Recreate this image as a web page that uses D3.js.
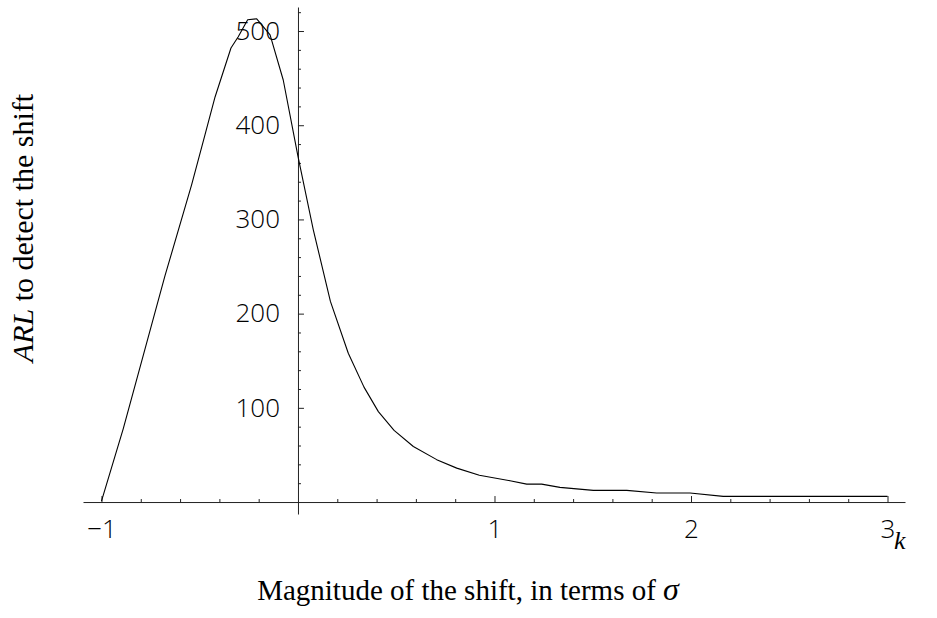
<!DOCTYPE html>
<html>
<head>
<meta charset="utf-8">
<script src="https://cdn.jsdelivr.net/npm/d3@7"></script>
<style>
  body { margin: 0; background: #fff; }
  .tick text { font-family: "Open Sans", "DejaVu Sans", sans-serif; font-weight: 300; font-size: 26px; fill: #000; }
  .lbl { font-family: "Liberation Serif", "Times New Roman", serif; fill: #000; }
</style>
</head>
<body>
<svg id="chart"></svg>
<script>
// reference value k of the shift and the resulting ARL
const kValues = [-1, -0.889, -0.779, -0.677, -0.541, -0.473, -0.422, -0.341, -0.304, -0.256, -0.210,
  -0.142, -0.075, 0, 0.078, 0.165, 0.256, 0.336, 0.409, 0.489, 0.587, 0.706, 0.808, 0.923,
  1.079, 1.164, 1.240, 1.333, 1.503, 1.673, 1.825, 1.995, 2.164, 3.0];
const arlValues = [1, 78, 162, 240, 337, 390, 430, 482, 494, 512, 513,
  496, 448, 367, 289, 213, 158, 122, 96, 76, 59, 45, 36, 28.5,
  22.6, 19, 19, 15.6, 12.4, 12.4, 9.6, 9.6, 6, 6];

const xTickLabels = [-1, 1, 2, 3];
const yTickLabels = [100, 200, 300, 400, 500];

const width = 937, height = 618;

const svg = d3.select('#chart')
  .attr('width', width)
  .attr('height', height);

// axes cross at (0, 0); ranges run a little past the data like the original plot
const x = d3.scaleLinear().domain([-1.094, 3.089]).range([83, 905]);
const y = d3.scaleLinear().domain([-12.7, 525.5]).range([514, 7]);

const xAxisY = y(0);
const yAxisX = x(0);

// minor ticks every 0.2 on x, every 20 on y
const xMinor = d3.range(-1, 3.0001, 0.2).map(v => +v.toFixed(1)).filter(v => v !== 0 && !xTickLabels.includes(v));
const yMinor = d3.range(20, 521, 20).filter(v => v % 100 !== 0);

svg.append('g')
  .attr('transform', `translate(0,${xAxisY})`)
  .call(d3.axisBottom(x).tickValues(xMinor).tickSizeInner(-3).tickSizeOuter(0).tickFormat(''))
  .call(g => g.selectAll('line, path').attr('stroke', '#222'));

svg.append('g')
  .attr('transform', `translate(0,${xAxisY})`)
  .call(d3.axisBottom(x).tickValues(xTickLabels).tickFormat(d3.format('d'))
    .tickSizeInner(-6).tickSizeOuter(0).tickPadding(18))
  .call(g => g.select('.domain').remove())
  .call(g => g.selectAll('line').attr('stroke', '#222'))
  .call(g => g.selectAll('text').attr('font-family', null).attr('font-size', null));

svg.append('g')
  .attr('transform', `translate(${yAxisX},0)`)
  .call(d3.axisLeft(y).tickValues(yMinor).tickSizeInner(-3).tickSizeOuter(0).tickFormat(''))
  .call(g => g.selectAll('line, path').attr('stroke', '#222'));

svg.append('g')
  .attr('transform', `translate(${yAxisX},0)`)
  .call(d3.axisLeft(y).tickValues(yTickLabels).tickFormat(d3.format('d'))
    .tickSizeInner(-6).tickSizeOuter(0).tickPadding(18))
  .call(g => g.select('.domain').remove())
  .call(g => g.selectAll('line').attr('stroke', '#222'))
  .call(g => g.selectAll('text').attr('font-family', null).attr('font-size', null));

// ARL curve
const line = d3.line()
  .x((d, i) => x(kValues[i]))
  .y(d => y(d));

svg.append('path')
  .datum(arlValues)
  .attr('fill', 'none')
  .attr('stroke', '#000')
  .attr('stroke-width', 1.1)
  .attr('stroke-linejoin', 'round')
  .attr('d', line);

// labels
svg.append('text')
  .attr('class', 'lbl')
  .attr('x', 894)
  .attr('y', 549)
  .attr('font-size', 26)
  .attr('font-style', 'italic')
  .text('k');

const xl = svg.append('text')
  .attr('class', 'lbl')
  .attr('x', 468)
  .attr('y', 600)
  .attr('text-anchor', 'middle')
  .attr('font-size', 29);
xl.append('tspan').text('Magnitude of the shift, in terms of ');
xl.append('tspan').attr('font-style', 'italic').attr('font-size', 32).text('σ');

const yl = svg.append('text')
  .attr('class', 'lbl')
  .attr('transform', 'translate(33,228) rotate(-90)')
  .attr('text-anchor', 'middle')
  .attr('font-size', 30);
yl.append('tspan').attr('font-style', 'italic').text('ARL');
yl.append('tspan').text(' to detect the shift');
</script>
</body>
</html>
